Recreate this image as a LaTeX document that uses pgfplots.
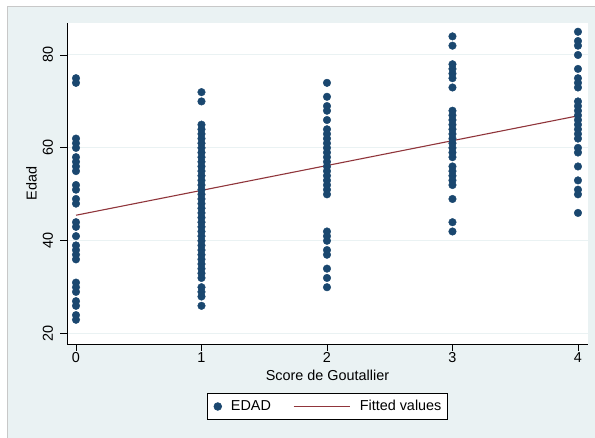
\documentclass[border=0pt]{standalone}
\usepackage{fontspec}
\setmainfont{Liberation Sans}
\usepackage{pgfplots}
\pgfplotsset{compat=1.18}
\definecolor{stnavy}{RGB}{26,71,111}
\definecolor{stmaroon}{RGB}{144,53,59}
\definecolor{stbg}{RGB}{234,242,243}
\definecolor{stgrid}{RGB}{234,242,243}
\definecolor{stborder}{RGB}{200,200,200}
\pgfplotsset{
  dotlegend/.style={legend image code/.code={\fill[stnavy] (0bp,0bp) circle (3.8bp);}},
  linelegend/.style={legend image code/.code={\draw[stmaroon, line width=1.1bp] (0bp,0bp) -- (56.7bp,0bp);}},
}
\begin{document}
\fontsize{14.4bp}{17bp}\selectfont
\begin{tikzpicture}[x=1bp,y=1bp]
\path[use as bounding box] (0,0) rectangle (595,438);
\fill[white] (0,0) rectangle (595,438);
\fill[stbg] (7,0) rectangle (595,431);
\draw[stborder, line width=1bp] (7,0) -- (7,431) -- (595,431);
\begin{axis}[
  at={(67bp,94bp)}, anchor=south west,
  scale only axis, width=521bp, height=321.3bp,
  xmin=-0.0717, xmax=4.08, ymin=17.78, ymax=86.95,
  axis background/.style={fill=white},
  axis lines*=left,
  axis line style={black, line width=0.9bp},
  tick align=outside, major tick length=7bp,
  tick style={black, line width=0.9bp},
  xtick={0,1,2,3,4}, ytick={20,40,60,80},
  ymajorgrids, grid style={stgrid, line width=1bp},
  /pgf/number format/assume math mode=true,
  ticklabel style={font=\fontsize{14.4bp}{17bp}\selectfont},
  yticklabel style={rotate=90, anchor=south, inner sep=0pt},
  yticklabel shift=6.7bp,
  xticklabel style={anchor=north, inner sep=0pt},
  xticklabel shift=1bp,
  xlabel={Score de Goutallier}, ylabel={Edad},
  label style={font=\fontsize{14.4bp}{17bp}\selectfont},
  xlabel style={at={(axis description cs:0.5,-0.0965)}, anchor=center},
  ylabel style={at={(axis description cs:-0.0681,0.5)}, anchor=center},
  legend columns=2,
  legend style={at={(0.5,-0.1945)}, anchor=center, draw=black, line width=0.8bp, fill=white,
    inner xsep=6bp, inner ysep=7bp, font=\fontsize{14.4bp}{17bp}\selectfont,
    nodes={inner sep=0pt},
    /tikz/every odd column/.append style={column sep=9bp},
    /tikz/every even column/.append style={column sep=22bp}},
]
\addplot[only marks, mark=*, mark size=3.8bp, color=stnavy, mark options={draw=stnavy, fill=stnavy}, dotlegend]
  coordinates {
  (0,75)(0,74)(0,62)(0,61)(0,60)(0,58)(0,57)(0,56)(0,55)(0,52)(0,51)(0,49)(0,48)(0,44)(0,43)(0,41)(0,39)(0,38)(0,37)(0,36)(0,31)(0,30)(0,29)(0,27)(0,26)(0,24)(0,23)
  (1,72)(1,70)(1,65)(1,64)(1,63)(1,62)(1,61)(1,60)(1,59)(1,58)(1,57)(1,56)(1,55)(1,54)(1,53)(1,52)(1,51)(1,50)(1,49)(1,48)(1,47)(1,46)(1,45)(1,44)(1,43)(1,42)(1,41)(1,40)(1,39)(1,38)(1,37)(1,36)(1,35)(1,34)(1,33)(1,32)(1,30)(1,29)(1,28)(1,26)
  (2,74)(2,71)(2,69)(2,68)(2,66)(2,64)(2,63)(2,62)(2,61)(2,60)(2,59)(2,58)(2,57)(2,56)(2,55)(2,54)(2,53)(2,52)(2,51)(2,50)(2,42)(2,41)(2,40)(2,38)(2,37)(2,34)(2,32)(2,30)
  (3,84)(3,82)(3,78)(3,77)(3,76)(3,75)(3,73)(3,68)(3,67)(3,66)(3,65)(3,64)(3,63)(3,62)(3,61)(3,60)(3,59)(3,58)(3,56)(3,55)(3,54)(3,53)(3,52)(3,49)(3,44)(3,42)
  (4,85)(4,83)(4,82)(4,80)(4,77)(4,75)(4,74)(4,73)(4,70)(4,69)(4,68)(4,67)(4,66)(4,65)(4,64)(4,63)(4,62)(4,60)(4,59)(4,56)(4,53)(4,51)(4,50)(4,46)
  };
\addlegendentry{EDAD}
\addplot[stmaroon, line width=1.1bp, no marks, linelegend]
  coordinates {(0,45.5)(4,66.9)};
\addlegendentry{Fitted values}
\end{axis}
\end{tikzpicture}
\end{document}
